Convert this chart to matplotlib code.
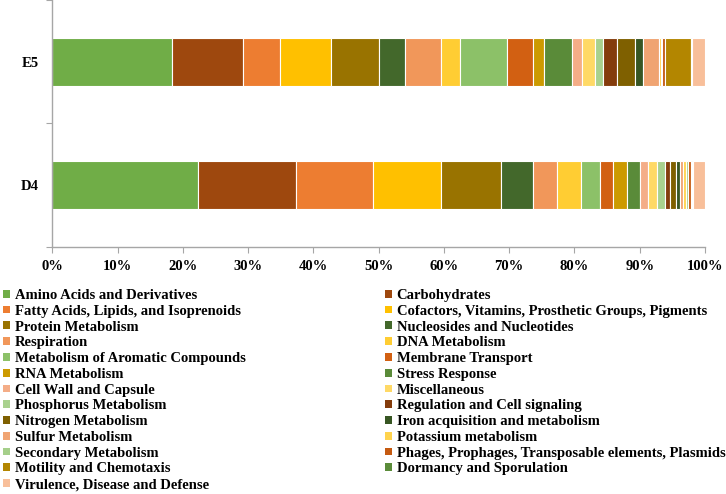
import numpy as np
import matplotlib
matplotlib.use('Agg')
import matplotlib.pyplot as plt
from matplotlib.patches import Patch
from matplotlib.ticker import PercentFormatter

samples = ['D4', 'E5']

categories = [
    'Amino Acids and Derivatives', 'Carbohydrates',
    'Fatty Acids, Lipids, and Isoprenoids', 'Cofactors, Vitamins, Prosthetic Groups, Pigments',
    'Protein Metabolism', 'Nucleosides and Nucleotides',
    'Respiration', 'DNA Metabolism',
    'Metabolism of Aromatic Compounds', 'Membrane Transport',
    'RNA Metabolism', 'Stress Response',
    'Cell Wall and Capsule', 'Miscellaneous',
    'Phosphorus Metabolism', 'Regulation and Cell signaling',
    'Nitrogen Metabolism', 'Iron acquisition and metabolism',
    'Sulfur Metabolism', 'Potassium metabolism',
    'Secondary Metabolism', 'Phages, Prophages, Transposable elements, Plasmids',
    'Motility and Chemotaxis', 'Dormancy and Sporulation',
    'Virulence, Disease and Defense',
]

# percent share per category
d4_values = [22.3, 15.0, 11.9, 10.4, 9.1, 4.9, 3.7, 3.7, 2.9, 2.0, 2.1, 2.0, 1.3,
             1.3, 1.3, 0.8, 0.8, 0.7, 0.5, 0.4, 0.3, 0.5, 0.1, 0.1, 1.9]
e5_values = [18.3, 10.9, 5.7, 7.8, 7.4, 3.9, 5.6, 2.8, 7.2, 4.1, 1.7, 4.2, 1.6,
             2.0, 1.1, 2.2, 2.7, 1.3, 2.5, 0.3, 0.1, 0.4, 4.1, 0.1, 2.0]

colors = [
    '#70AD47', '#9E480E', '#ED7D31', '#FFC000', '#997300', '#43682B',
    '#F1975A', '#FFCD33', '#8CC168', '#D26012', '#CC9A00', '#5A8B39',
    '#F4AD87', '#FFD966', '#A9D18E', '#843C0C', '#7F6000', '#375623',
    '#F0A472', '#FFD34D', '#A5CF8A', '#C55A11', '#B38600', '#5B8C3A',
    '#F8BF9A',
]

plt.rcParams['font.family'] = ['Liberation Serif', 'DejaVu Serif']
plt.rcParams['font.weight'] = 'bold'

fig = plt.figure(figsize=(7.26, 4.94), dpi=100)
ax = fig.add_axes([52.3 / 726, 1 - 247 / 494, (705 - 52.3) / 726, 247 / 494])

vals = np.array([d4_values, e5_values])
left = np.zeros(len(samples))
for i, cat in enumerate(categories):
    ax.barh(samples, vals[:, i], left=left, height=0.39, color=colors[i],
            edgecolor='white', linewidth=0.8, label=cat)
    left += vals[:, i]

ax.set_xlim(0, 100)
ax.set_ylim(-0.5, 1.5)
ax.set_xticks(np.arange(0, 101, 10))
ax.xaxis.set_major_formatter(PercentFormatter(decimals=0))
ax.set_yticks([-0.5, 0.5, 1.5], minor=False)
ax.set_yticklabels([])
ax.set_yticks([0, 1], minor=True)
ax.set_yticklabels(samples, minor=True)
ax.tick_params(axis='y', which='minor', length=0, pad=10, labelsize=10.5)
ax.tick_params(axis='y', which='major', length=4, color='#A6A6A6')
ax.tick_params(axis='x', length=4, color='#A6A6A6', labelsize=10.5, pad=5)
for s in ['top', 'right']:
    ax.spines[s].set_visible(False)
for s in ['left', 'bottom']:
    ax.spines[s].set_color('#A6A6A6')
    ax.spines[s].set_linewidth(1.0)

handles = [Patch(facecolor=c, edgecolor='none') for c in colors]
left_idx = list(range(0, len(categories), 2))
right_idx = list(range(1, len(categories), 2))
leg_kw = dict(frameon=False, fontsize=10.5, handlelength=0.45, handleheight=0.45,
              handletextpad=0.35, labelspacing=0.19, borderaxespad=0, borderpad=0)
leg1 = fig.legend([handles[i] for i in left_idx], [categories[i] for i in left_idx],
                  loc='upper left', bbox_to_anchor=(3 / 726, 1 - 289 / 494), **leg_kw)
leg2 = fig.legend([handles[i] for i in right_idx], [categories[i] for i in right_idx],
                  loc='upper left', bbox_to_anchor=(385 / 726, 1 - 289 / 494), **leg_kw)

fig.savefig('out.png', dpi=100)
